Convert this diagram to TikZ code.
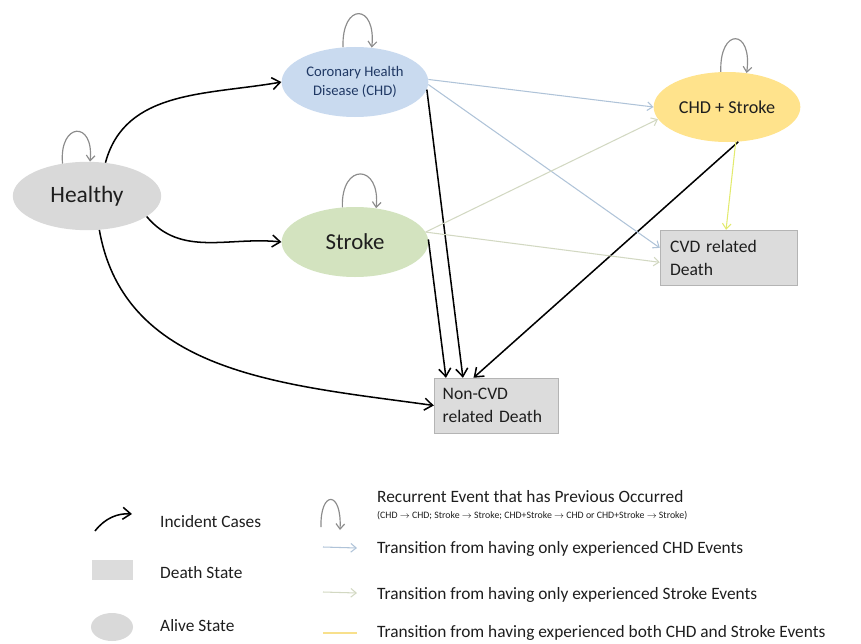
\documentclass[tikz,border=0pt]{standalone}
\usepackage{fontspec}
\setmainfont{Carlito}
\usepackage{xcolor}
\usepackage{tikz}
\usetikzlibrary{arrows.meta, positioning, shapes}
\definecolor{healthygray}{HTML}{D9D9D9}
\definecolor{chdblue}{HTML}{C9DAEF}
\definecolor{strokegreen}{HTML}{D3E3BF}
\definecolor{bothyellow}{HTML}{FFE38C}
\definecolor{deathgray}{HTML}{DCDCDC}
\definecolor{boxline}{HTML}{B4B4B4}
\definecolor{textgray}{HTML}{1E1E1E}
\definecolor{chdtext}{HTML}{1F3864}
\definecolor{loopgray}{HTML}{8C8C8C}
\definecolor{chdline}{HTML}{AFC3D8}
\definecolor{strokeline}{HTML}{D2D8C2}
\definecolor{bothline}{HTML}{E2EA6E}
\definecolor{keyyellow}{HTML}{F8E08C}

\begin{document}
\begin{tikzpicture}[x=0.03cm, y=-0.03cm,
    state/.style={ellipse, inner sep=0pt, minimum width=4.4cm,
      minimum height=2.1cm, align=center, text=textgray},
    deathbox/.style={rectangle, draw=boxline, fill=deathgray,
      minimum height=1.65cm, inner xsep=0.3cm, align=left,
      text=textgray, font=\fontsize{15}{19.6}\selectfont},
    incident/.style={-{Straight Barb[length=2.4mm, width=3.6mm]},
      line width=1.3pt},
    recurrent/.style={-{Straight Barb[length=1.6mm, width=2.6mm]},
      draw=loopgray, line width=1pt},
    fromchd/.style={-{Straight Barb[length=1.6mm, width=2.6mm]},
      draw=chdline, line width=0.9pt},
    fromstroke/.style={-{Straight Barb[length=1.6mm, width=2.6mm]},
      draw=strokeline, line width=0.9pt},
    fromboth/.style={-{Straight Barb[length=1.6mm, width=2.6mm]},
      draw=bothline, line width=0.9pt},
    keytext/.style={anchor=west, inner xsep=0pt, text=textgray,
      font=\fontsize{14.8}{17}\selectfont}]
  \useasboundingbox (0,0) rectangle (861,644);

  % States
  \node[state, fill=healthygray, minimum width=4.45cm, minimum height=2.05cm,
    font=\fontsize{20}{23}\selectfont] (healthy) at (87,196) {Healthy};
  \node[state, fill=chdblue, text=chdtext,
    font=\fontsize{12.5}{16}\selectfont] (chd) at (355,82)
    {Coronary Health\\Disease (CHD)};
  \node[state, fill=strokegreen,
    font=\fontsize{19.5}{23}\selectfont] (stroke) at (355,242) {Stroke};
  \node[state, fill=bothyellow,
    font=\fontsize{15.5}{18}\selectfont] (both) at (727,107) {CHD + Stroke};
  \node[deathbox, text width=3.5cm, minimum width=4.11cm]
    (cvd) at (728.5,257.5) {CVD related\\Death};
  \node[deathbox, text width=3.2cm, minimum width=3.72cm, inner xsep=0.25cm]
    (noncvd) at (496,405.5) {Non-CVD\\related Death};

  % Recurrent loops
  \draw[recurrent] (healthy.127) .. controls +(95:1.25cm) and +(84:1.25cm) .. (healthy.85);
  \draw[recurrent] (chd.109) .. controls +(92:1.35cm) and +(84:1.35cm) .. (chd.64);
  \draw[recurrent] (stroke.110) .. controls +(92:1.35cm) and +(84:1.35cm) .. (stroke.58);
  \draw[recurrent] (both.100) .. controls +(92:1.35cm) and +(82:1.35cm) .. (both.60);

  % Incident cases
  \draw[incident] (healthy.61) to[out=75, in=190] (chd.west);
  \draw[incident] (healthy.-19) to[out=-50, in=174] (stroke.west);
  \draw[incident] (healthy.-70) to[out=-80, in=172] (noncvd.west);
  \draw[incident] (chd.-6) -- (noncvd.140);
  \draw[incident] (stroke.2) -- (noncvd.151);
  \draw[incident] (both.-72) -- (noncvd.129);

  % Transitions
  \draw[fromchd] (chd.2) -- (both.west);
  \draw[fromchd] (chd.-2) -- (cvd.172);
  \draw[fromstroke] (stroke.8) -- (both.190);
  \draw[fromstroke] (stroke.8) -- (cvd.184);
  \draw[fromboth] (both.-76) -- (cvd.95);

  % Key
  \draw[incident] (95,531) .. controls (105,518) and (118,513) .. (132,514);
  \fill[deathgray] (92,560) rectangle (133,580);
  \fill[healthygray] (112,627) ellipse [x radius=0.63cm, y radius=0.42cm];
  \node[keytext] (kinc) at (160,522) {Incident Cases};
  \node[keytext] (kdeath) at (160,573) {Death State};
  \node[keytext] (kalive) at (160,626) {Alive State};

  \draw[recurrent] (321,527) .. controls (320,490) and (342,490) .. (340,530);
  \draw[fromchd] (323,547) -- (357,548);
  \draw[fromstroke] (323,592) -- (357,593);
  \draw[keyyellow, line width=2pt] (323,633) -- (357,633);
  \node[keytext] (krec) at (377,497) {Recurrent Event that has Previous Occurred};
  \node[keytext, font=\fontsize{8.4}{10}\selectfont] (krecsub) at (377,516)
    {(CHD $\rightarrow$ CHD; Stroke $\rightarrow$ Stroke; CHD+Stroke $\rightarrow$ CHD or CHD+Stroke $\rightarrow$ Stroke)};
  \node[keytext] (kchd) at (377,549) {Transition from having only experienced CHD Events};
  \node[keytext] (kstroke) at (377,595) {Transition from having only experienced Stroke Events};
  \node[keytext] (kboth) at (377,633) {Transition from having experienced both CHD and Stroke Events};
\end{tikzpicture}
\end{document}
